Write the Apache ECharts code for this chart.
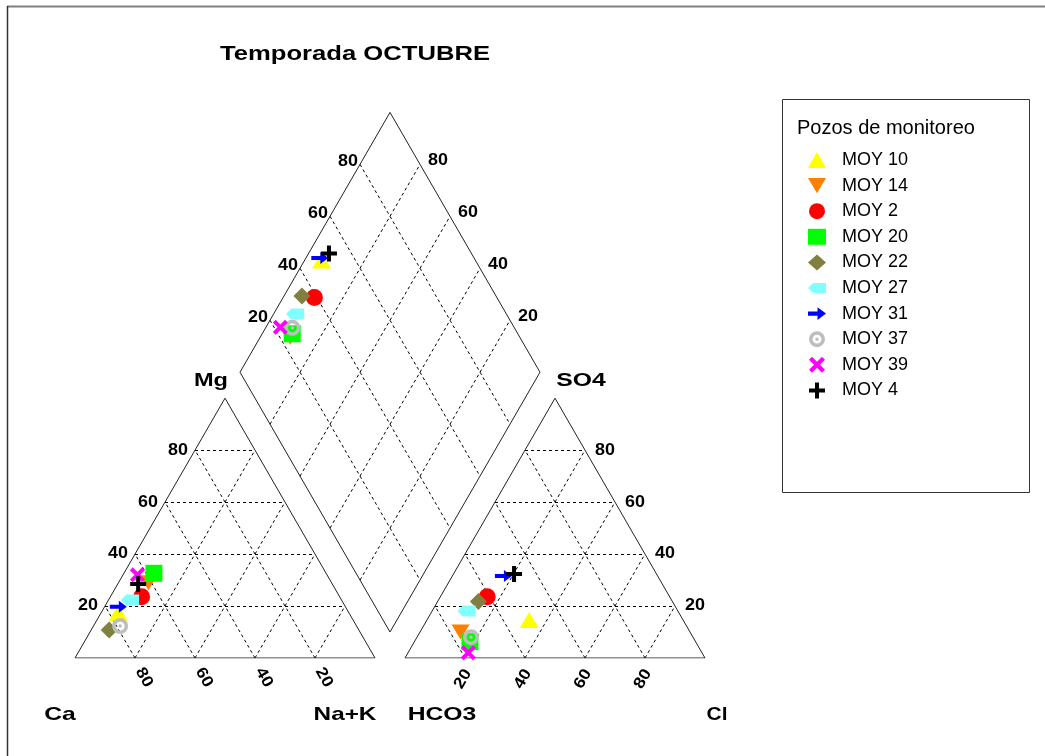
<!DOCTYPE html>
<html><head><meta charset="utf-8">
<script src="https://cdn.jsdelivr.net/npm/echarts@6/dist/echarts.min.js"></script>
<style>html,body{margin:0;padding:0;background:#fff}#c{width:1045px;height:756px}</style>
</head><body><div id="c"></div>
<script>
// ---- data (percent of meq) ----
const wells = ['MOY 10','MOY 14','MOY 2','MOY 20','MOY 22','MOY 27','MOY 31','MOY 37','MOY 39','MOY 4'];
const mg   = [17.4, 29.0, 23.6, 32.6, 10.8, 22.3, 19.7, 12.3, 32.0, 28.5];
const nak  = [ 5.7, 10.0, 10.4, 10.0,  6.0,  7.2,  4.6,  8.9,  4.8,  6.8];
const ca   = [76.9, 61.0, 66.0, 57.4, 83.2, 70.5, 75.7, 78.8, 63.2, 64.7];
const so4  = [14.6, 10.0, 23.6,  6.3, 21.7, 18.1, 31.6,  8.0,  2.0, 32.3];
const cl   = [34.1, 13.5, 15.6, 18.5, 13.6, 11.5, 17.0, 18.0, 20.1, 20.2];
const hco3 = [51.3, 76.5, 60.8, 75.2, 64.7, 70.4, 51.4, 74.0, 77.9, 47.5];
const gridTicks = [20, 40, 60, 80];
const tickLabels = ['20', '40', '60', '80'];
const colors = ['#FFFF00','#FF7F00','#FF0000','#00FF00','#808040','#80FFFF','#0000FF','#BEBEBE','#FF00FF','#000000'];

// ---- marker shapes ----
const symbols = [
  'triangle',
  'path://M0,0 L20,0 L10,17 Z',
  'circle',
  'rect',
  'diamond',
  'path://M0,5 L5,0 L18,0 L18,10 L5,10 Z',
  'path://M0,4 L9,4 L9,0 L17,6 L9,12 L9,8 L0,8 Z',
  'path://M0,-10 A10,10 0 1,1 0,10 A10,10 0 1,1 0,-10 Z M0,-5.5 A5.5,5.5 0 1,0 0,5.5 A5.5,5.5 0 1,0 0,-5.5 Z M0,-2.2 A2.2,2.2 0 1,1 0,2.2 A2.2,2.2 0 1,1 0,-2.2 Z',
  'path://M0,3 L3,0 L8,5 L13,0 L16,3 L11,8 L16,13 L13,16 L8,11 L3,16 L0,13 L5,8 Z',
  'path://M6,0 L10,0 L10,6 L16,6 L16,10 L10,10 L10,16 L6,16 L6,10 L0,10 L0,6 L6,6 Z'
];
const sizes = [[19,16],[18,15],[17,17],[17,17],[17,17],[18,11],[17,12],[16,16],[15,15],[16,16]];

// ---- ternary -> cartesian (triangle side = 100 units) ----
const S = Math.sin(Math.PI / 3);
function cat(m, n) { return [n + m / 2, m * S]; }
function ani(s, c) { return [110 + c + s / 2, s * S]; }
function dia(n, sc) { const a = n / 100, b = sc / 100; return [105 - 50 * (1 - a) + 50 * b, 10 * S + 100 * S * (1 - a + b)]; }

// frames
const frames = [
  { coords: [cat(0,0), cat(0,100), cat(100,0), cat(0,0)] },
  { coords: [ani(0,0), ani(0,100), ani(100,0), ani(0,0)] },
  { coords: [dia(100,0), dia(100,100), dia(0,100), dia(0,0), dia(100,0)] }
];
// dashed grid
const grid = [];
gridTicks.forEach(k => {
  grid.push({ coords: [cat(k,0), cat(k,100-k)] });
  grid.push({ coords: [cat(0,k), cat(100-k,k)] });
  grid.push({ coords: [cat(0,100-k), cat(100-k,0)] });
  grid.push({ coords: [ani(k,0), ani(k,100-k)] });
  grid.push({ coords: [ani(0,k), ani(100-k,k)] });
  grid.push({ coords: [ani(0,100-k), ani(100-k,0)] });
  grid.push({ coords: [dia(k,0), dia(k,100)] });
  grid.push({ coords: [dia(0,k), dia(100,k)] });
});

const font = '"Liberation Sans", Arial, sans-serif';
const series = [
  { type: 'lines', coordinateSystem: 'cartesian2d', polyline: false, silent: true, z: 1,
    lineStyle: { color: '#000', width: 1, type: [3, 3], opacity: 1 }, data: grid },
  { type: 'lines', coordinateSystem: 'cartesian2d', polyline: true, silent: true, z: 1,
    lineStyle: { color: '#222', width: 1, opacity: 1 }, data: frames }
];
wells.forEach((w, i) => {
  series.push({
    type: 'scatter', name: w, symbol: symbols[i], symbolSize: sizes[i],
    itemStyle: { color: colors[i], opacity: 1 }, z: 3, silent: true,
    data: [cat(mg[i], nak[i]), ani(so4[i], cl[i]), dia(nak[i], so4[i] + cl[i])]
  });
});

const chart = echarts.init(document.getElementById('c'));
chart.setOption({
  animation: false,
  backgroundColor: '#fff',
  grid: { left: 75, top: 88, width: 630, height: 570 },
  xAxis: { type: 'value', min: 0, max: 210, show: false },
  yAxis: { type: 'value', min: 0, max: 190, show: false },
  legend: {
    orient: 'vertical', left: 803, top: 146, padding: 5, itemWidth: 18, itemHeight: 16, itemGap: 7.6,
    selectedMode: false, data: wells,
    textStyle: { fontSize: 18, fontFamily: font, color: '#000', padding: [0, 0, 0, 11] }
  },
  series: series
});

// ---- texts placed through the chart's own scale ----
function px(p) { return chart.convertToPixel({ gridIndex: 0 }, p); }
const g = [];
function txt(text, x, y, opt) {
  opt = opt || {};
  g.push({
    type: 'text', x: x, y: y, rotation: opt.rot || 0, scaleX: opt.sx || 1, silent: true,
    style: { text: text, x: 0, y: 0, font: opt.font || ('bold 16px ' + font), fill: '#000',
      align: opt.align || 'center', verticalAlign: 'middle',
      textAlign: opt.align || 'center', textVerticalAlign: 'middle' }
  });
}
gridTicks.forEach((k, j) => {
  const t = tickLabels[j];
  let p = px(cat(k, 0));         txt(t, p[0] - 7, p[1], { align: 'right', sx: 1.12 });
  p = px(cat(0, 100 - k));       txt(t, p[0] + 9, p[1] + 19.5, { rot: -Math.PI / 3, sx: 1.12 });
  p = px(ani(k, 100 - k));       txt(t, p[0] + 10, p[1], { align: 'left', sx: 1.12 });
  p = px(ani(0, k));             txt(t, p[0] - 2, p[1] + 21, { rot: Math.PI / 3, sx: 1.12 });
  p = px(dia(0, k));             txt(t, p[0] - 2, p[1] - 3, { align: 'right', sx: 1.12 });
  p = px(dia(100 - k, 100));     txt(t, p[0] + 8, p[1] - 4, { align: 'left', sx: 1.12 });
});
const bf = 'bold 19px ' + font;
txt('Temporada OCTUBRE', 355, 54, { font: 'bold 21px ' + font, sx: 1.22 });
txt('Mg', 211, 381, { font: bf, sx: 1.24 });
txt('SO4', 581, 381, { font: bf, sx: 1.3 });
txt('Ca', 60, 715, { font: bf, sx: 1.3 });
txt('Na+K', 345, 715, { font: bf, sx: 1.28 });
txt('HCO3', 442, 715, { font: bf, sx: 1.3 });
txt('Cl', 717, 715, { font: bf, sx: 1.1 });
// legend box and its title
g.push({ type: 'rect', silent: true, shape: { x: 782.5, y: 99.5, width: 247, height: 393 },
  style: { fill: 'none', stroke: '#333', lineWidth: 1 } });
g.push({ type: 'text', x: 797, y: 128, silent: true,
  style: { text: 'Pozos de monitoreo', x: 0, y: 0, font: '20px ' + font, fill: '#000',
    align: 'left', verticalAlign: 'middle', textAlign: 'left', textVerticalAlign: 'middle' } });
// figure frame edges (top and left)
g.push({ type: 'line', silent: true, shape: { x1: 7, y1: 6.5, x2: 1045, y2: 6.5 }, style: { stroke: '#808080', lineWidth: 2 } });
g.push({ type: 'line', silent: true, shape: { x1: 7.5, y1: 6, x2: 7.5, y2: 756 }, style: { stroke: '#333', lineWidth: 1.5 } });
chart.setOption({ graphic: g });
</script></body></html>
